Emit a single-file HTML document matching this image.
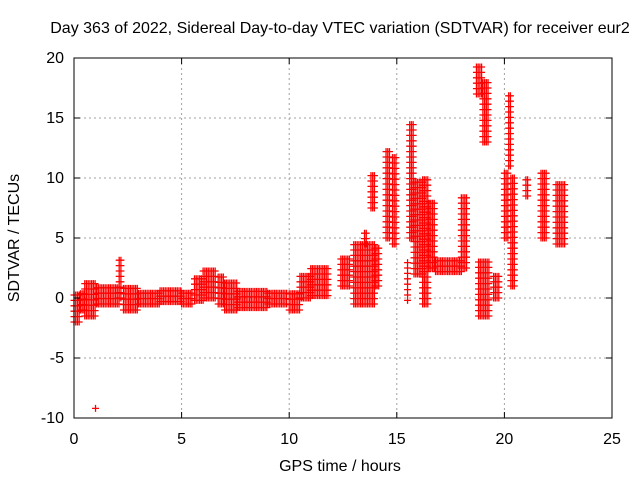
<!DOCTYPE html>
<html><head><meta charset="utf-8"><style>
body{margin:0;background:#fff;width:640px;height:480px;overflow:hidden}
text{font-family:"Liberation Sans",sans-serif;font-size:16px;fill:#000}
</style></head><body>
<svg id="chart" width="640" height="480" xmlns="http://www.w3.org/2000/svg">
<text x="340" y="33" text-anchor="middle">Day 363 of 2022, Sidereal Day-to-day VTEC variation (SDTVAR) for receiver eur2</text>
<g id="grid"></g>
<g id="marks"></g>
<rect x="74" y="58" width="538" height="360" fill="none" stroke="#000" stroke-width="1"/>
<g id="ticks"></g>
<text x="340" y="471" text-anchor="middle">GPS time / hours</text>
<text transform="translate(19,238) rotate(-90)" text-anchor="middle">SDTVAR / TECUs</text>
</svg>
<script>
const xTicks=[0,5,10,15,20,25];
const yTicks=[-10,-5,0,5,10,15,20];
const segStart=[0.0,0.3,0.5,1.0,1.05,2.1,2.3,3.0,4.0,5.0,5.6,6.0,6.7,7.0,7.6,9.0,10.0,10.5,11.0,12.4,13.0,13.5,13.8,14.0,14.5,14.8,15.5,15.6,15.8,16.2,16.5,16.8,18.0,18.7,19.0,18.8,19.5,20.0,20.2,20.3,21.0,21.7,22.4];
const segEnd  =[0.3,0.5,1.0,1.05,2.1,2.2,3.0,4.0,5.0,5.5,6.0,6.6,7.0,7.6,9.0,9.9,10.5,11.0,11.8,12.8,14.0,13.6,14.0,14.2,14.7,15.0,15.55,15.8,16.2,16.5,16.8,18.0,18.3,19.0,19.3,19.3,19.8,20.2,20.3,20.5,21.1,22.0,22.8];
const segLo   =[-2.0,-1.0,-1.5,-9.2,-0.5,0.0,-1.0,-0.5,-0.3,-0.5,-0.2,0.0,-0.5,-1.0,-0.8,-0.5,-1.0,0.0,0.2,1.0,-0.5,4.5,7.5,1.0,5.0,4.5,-0.2,5.0,2.0,-0.5,2.5,2.2,2.5,17.0,13.0,-1.5,0.0,5.0,11.0,1.0,8.5,5.0,4.5];
const segHi   =[0.3,0.5,1.2,-9.2,1.2,3.2,1.0,0.8,1.0,0.8,1.8,2.5,1.8,1.5,0.6,0.6,0.6,2.0,2.6,3.5,4.5,5.5,10.5,4.5,12.5,12.0,3.0,14.8,10.0,10.0,8.0,3.2,8.5,19.5,18.0,3.0,2.0,10.5,17.0,10.0,10.0,10.5,9.5];
const X0=74,X1=612,Y0=418,Y1=58;
const sx=v=>X0+(v-0)/(25-0)*(X1-X0);
const sy=v=>Y0-(v+10)/(30)*(Y0-Y1);
const NS="http://www.w3.org/2000/svg";
const grid=document.getElementById('grid'),ticks=document.getElementById('ticks'),marks=document.getElementById('marks');
function mk(tag,attrs,parent){const e=document.createElementNS(NS,tag);for(const k in attrs)e.setAttribute(k,attrs[k]);parent.appendChild(e);return e;}
xTicks.forEach(t=>{
  const x=sx(t);
  if(t>0&&t<25){const g=mk('line',{x1:x,x2:x,y1:Y1,y2:Y0,stroke:'#a0a0a0','stroke-dasharray':'2,3'},grid);
  
  }
  mk('line',{x1:x,x2:x,y1:Y0,y2:Y0-6,stroke:'#000'},ticks);
  mk('line',{x1:x,x2:x,y1:Y1,y2:Y1+6,stroke:'#000'},ticks);
  const l=mk('text',{x:x,y:444,'text-anchor':'middle'},ticks);l.textContent=t;
  
  
});
yTicks.forEach(t=>{
  const y=sy(t);
  if(t>-10&&t<20){const g=mk('line',{x1:X0,x2:X1,y1:y,y2:y,stroke:'#a0a0a0','stroke-dasharray':'2,3'},grid);
  
  }
  mk('line',{x1:X0,x2:X0+6,y1:y,y2:y,stroke:'#000'},ticks);
  mk('line',{x1:X1,x2:X1-6,y1:y,y2:y,stroke:'#000'},ticks);
  const l=mk('text',{x:64,y:y+5,'text-anchor':'end'},ticks);l.textContent=t;
  
  
});
let d='';
for(let i=0;i<segStart.length;i++){
  for(let t=segStart[i];t<=segEnd[i]+1e-6;t+=0.08){
    for(let v=segLo[i];v<=segHi[i]+1e-6;v+=0.45){
      const x=sx(t),y=sy(v);
      d+=`M${x-3.5},${y}h7M${x},${y-3.5}v7`;
    }
  }
}
const p=mk('path',{d:d,stroke:'#ff0000','stroke-width':'1.3',fill:'none'},marks);


</script>
</body></html>
